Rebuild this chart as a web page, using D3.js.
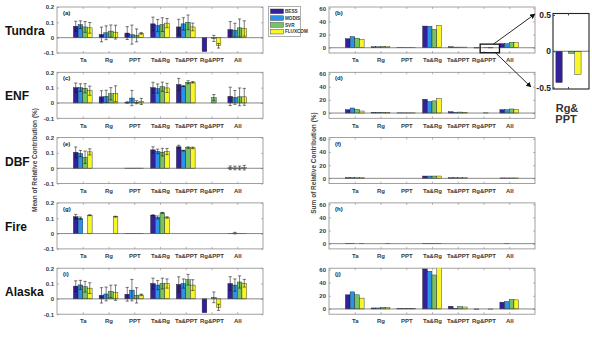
<!DOCTYPE html>
<html><head><meta charset="utf-8">
<script src="https://cdn.jsdelivr.net/npm/d3@7/dist/d3.min.js"></script>
<style>body{margin:0;background:#fff}svg{display:block}text{font-family:"Liberation Sans",Arial,sans-serif}</style>
</head><body>
<script>
// ---------- data ----------
const categories = ["Ta","Rg","PPT","Ta&Rg","Ta&PPT","Rg&PPT","All"];
const series = ["BESS","MODIS","SVR","FLUXCOM"];
const regions = ["Tundra","ENF","DBF","Fire","Alaska"];
const leftLetters = ["(a)","(c)","(e)","(g)","(i)"];
const rightLetters = ["(b)","(d)","(f)","(h)","(j)"];
const leftTicks = [-0.1, 0, 0.1, 0.2];
const rightTicks = [0, 20, 40, 60];
const insetTicks = [-0.5, 0, 0.5];
const colors = ["#33219c","#2c93e4","#74c466","#f6f62a"];

// mean of relative contribution: per category, [BESS, MODIS, SVR, FLUXCOM]
const meanTundra = [[0.074,0.085,0.070,0.064],[0.021,0.032,0.043,0.036],[0.030,0.020,0.015,0.028],[0.090,0.079,0.085,0.095],[0.070,0.090,0.100,0.070],[-0.090,null,-0.005,-0.053],[0.053,0.049,0.064,0.060]];
const errTundra  = [[0.033,0.025,0.035,0.035],[0.048,0.045,0.040,0.045],[0.042,0.062,0.042,0.005],[0.044,0.040,0.045,0.030],[0.050,0.040,0.048,0.025],[0,null,0.020,0.015],[0.052,0.045,0.058,0.050]];
const meanENF = [[0.100,0.100,0.096,0.080],[0.040,0.043,0.060,0.060],[0.003,0.032,0.005,0.010],[0.100,0.094,0.106,0.098],[0.120,0.110,0.135,0.135],[null,null,0.035,null],[0.043,0.036,0.040,0.040]];
const errENF  = [[0.030,0.025,0.030,0.030],[0.040,0.040,0.040,0.052],[0.005,0.050,0.010,0.020],[0.035,0.030,0.030,0.030],[0.040,0.003,0.010,0.005],[null,null,0.020,null],[0.060,0.045,0.058,0.055]];
const meanDBF = [[0.104,0.096,0.072,0.107],[null,null,null,null],[0.001,0.001,0.001,0.001],[0.120,0.110,0.105,0.109],[0.140,0.115,0.135,0.133],[null,null,null,null],[0.003,0.002,0.002,0.004]];
const errDBF  = [[0.035,0.020,0.040,0.020],[null,null,null,null],[0,0,0,0],[0.020,0.015,0.025,0.020],[0.010,0.003,0.005,0.005],[null,null,null,null],[0.012,0.012,0.012,0.015]];
const meanFire = [[0.110,0.100,null,0.120],[null,null,null,0.110],[0.001,0.001,0.001,0.001],[0.120,0.105,0.135,0.105],[null,null,null,null],[null,null,null,null],[0.001,0.003,0.001,0.001]];
const errFire  = [[0.015,0.008,null,0.003],[null,null,null,0.003],[0,0,0,0],[0.003,0.010,0.003,0.005],[null,null,null,null],[null,null,null,null],[0,0.005,0,0]];
const meanAlaska = [[0.083,0.091,0.079,0.070],[0.023,0.032,0.049,0.040],[0.030,0.057,0.023,0.026],[0.100,0.090,0.100,0.100],[0.094,0.100,0.125,0.090],[-0.090,null,0.010,-0.055],[0.100,0.090,0.110,0.102]];
const errAlaska  = [[0.035,0.030,0.035,0.035],[0.050,0.045,0.040,0.050],[0.045,0.070,0.050,0.005],[0.035,0.030,0.035,0.030],[0.050,0.030,0.035,0.035],[0,null,0.035,0.020],[0.045,0.040,0.040,0.025]];

// sum of relative contribution (%)
const sumTundra = [[13.7,17.0,14.6,12.7],[1.5,1.5,2.0,1.5],[0.5,0.5,0.5,0.5],[33.0,32.7,28.0,34.0],[1.5,1.0,1.0,1.0],[-0.43,0,-0.03,-0.32],[6.3,6.3,8.3,7.8]];
const sumENF = [[5.1,7.7,5.6,3.1],[1.0,1.0,1.0,1.0],[0.3,0.3,0.3,0.3],[21.0,17.4,18.5,22.0],[2.0,1.0,1.5,1.0],[0,0,0.3,0],[5.1,5.1,6.2,5.6]];
const sumDBF = [[1.2,1.2,0.9,1.2],[0,0,0,0],[0,0,0,0],[3.5,3.5,3.5,3.5],[1.0,1.0,1.0,1.0],[null,null,null,null],[0.6,0.6,0.6,0.6]];
const sumFire = [[0.5,0.5,0,0.5],[0,0,0,0.3],[0,0,0,0],[0.5,0.5,0.5,0.5],[null,null,null,null],[null,null,null,null],[0,0.1,0,0]];
const sumAlaska = [[21.5,26.0,21.5,16.5],[1.5,1.5,2.5,2.0],[0.5,0.5,0.5,0.5],[60.9,57.3,51.7,64.0],[4.0,1.0,3.6,3.0],[-0.5,0,0,-0.3],[10.3,11.3,14.4,13.8]];

const means = [meanTundra, meanENF, meanDBF, meanFire, meanAlaska];
const errs = [errTundra, errENF, errDBF, errFire, errAlaska];
const sums = [sumTundra, sumENF, sumDBF, sumFire, sumAlaska];

// ---------- layout ----------
const W = 592, H = 337;
const svg = d3.select("body").append("svg").attr("width", W).attr("height", H);
svg.append("rect").attr("width", W).attr("height", H).attr("fill", "#fff");
const defs = svg.append("defs");
defs.append("marker").attr("id","arr").attr("viewBox","0 0 10 10").attr("refX",9).attr("refY",5)
  .attr("markerWidth",6).attr("markerHeight",6).attr("orient","auto")
  .append("path").attr("d","M0,0L10,5L0,10z").attr("fill","#111");

const panelH = 46, step = 65.3, top0 = 7;
const leftX = 57, rightX = 329, panelW = 206;
const slot = 0.182;
const tickColor = "#3a3a3a";

function drawPanel(g, x0, y0, yDomain, ticks, tickFmt, data, err, letter, clipId) {
  const x = d3.scaleLinear().domain([0, 8]).range([x0, x0 + panelW]);
  const y = d3.scaleLinear().domain(yDomain).range([y0 + panelH, y0]);
  defs.append("clipPath").attr("id", clipId).append("rect")
    .attr("x", x0).attr("y", y0).attr("width", panelW).attr("height", panelH);
  g.append("rect").attr("x", x0).attr("y", y0).attr("width", panelW).attr("height", panelH)
    .attr("fill", "none").attr("stroke", "#8a8a8a").attr("stroke-width", 0.8);
  const ax = g.append("g").attr("transform", `translate(${x0},0)`)
    .call(d3.axisLeft(y).tickValues(ticks).tickFormat(tickFmt).tickSizeInner(-2).tickSizeOuter(0).tickPadding(3));
  const axr = g.append("g").attr("transform", `translate(${x0 + panelW},0)`)
    .call(d3.axisRight(y).tickValues(ticks).tickFormat("").tickSizeInner(-2).tickSizeOuter(0));
  const axb = g.append("g").attr("transform", `translate(0,${y0 + panelH})`)
    .call(d3.axisBottom(x).tickValues(d3.range(1, 8)).tickFormat(i => categories[i - 1]).tickSizeInner(-2).tickSizeOuter(0).tickPadding(5));
  const axt = g.append("g").attr("transform", `translate(0,${y0})`)
    .call(d3.axisTop(x).tickValues(d3.range(1, 8)).tickFormat("").tickSizeInner(-2).tickSizeOuter(0));
  [ax, axr, axb, axt].forEach(a => {
    a.select(".domain").remove();
    a.selectAll("line").attr("stroke", "#8a8a8a").attr("stroke-width", 0.6);
    a.selectAll("text").attr("fill", tickColor).attr("font-size", 6).attr("font-weight", "bold");
  });
  const cells = [];
  data.forEach((row, ci) => row.forEach((v, si) => { if (v !== null) cells.push({ ci, si, v, e: err ? err[ci][si] : null }); }));
  const bg = g.append("g").attr("clip-path", `url(#${clipId})`);
  bg.selectAll("rect.bar").data(cells).enter().append("rect").attr("class", "bar")
    .attr("x", d => x(d.ci + 1 + (d.si - 2) * slot))
    .attr("width", d => x(slot) - x(0))
    .attr("y", d => y(Math.max(0, d.v)))
    .attr("height", d => Math.abs(y(d.v) - y(0)))
    .attr("fill", d => colors[d.si]).attr("stroke", "#1a1a1a").attr("stroke-width", 0.4);
  g.append("line").attr("x1", x0).attr("x2", x0 + panelW).attr("y1", y(0)).attr("y2", y(0))
    .attr("stroke", "#555").attr("stroke-width", 0.7);
  if (err) {
    const eb = bg.selectAll("g.eb").data(cells.filter(d => d.e !== null && d.e > 0)).enter().append("g").attr("class", "eb")
      .attr("stroke", "#111").attr("stroke-width", 0.55);
    const cx = d => x(d.ci + 1 + (d.si - 1.5) * slot);
    eb.append("line").attr("x1", cx).attr("x2", cx).attr("y1", d => y(d.v - d.e)).attr("y2", d => y(d.v + d.e));
    eb.append("line").attr("x1", d => cx(d) - 1.6).attr("x2", d => cx(d) + 1.6).attr("y1", d => y(d.v + d.e)).attr("y2", d => y(d.v + d.e));
    eb.append("line").attr("x1", d => cx(d) - 1.6).attr("x2", d => cx(d) + 1.6).attr("y1", d => y(d.v - d.e)).attr("y2", d => y(d.v - d.e));
  }
  g.append("text").attr("x", x0 + 6).attr("y", y0 + 8).attr("font-size", 6).attr("font-weight", "bold")
    .attr("fill", "#222").text(letter);
  return { x, y };
}

const leftFmt = d => d === 0 ? "0" : String(d);
let tundraRight = null;
regions.forEach((r, i) => {
  const y0 = top0 + i * step;
  drawPanel(svg.append("g"), leftX, y0, [-0.1, 0.2], leftTicks, leftFmt, means[i], errs[i], leftLetters[i], "cl" + i);
  const rs = drawPanel(svg.append("g"), rightX, y0, [-8, 62], rightTicks, d => String(d), sums[i], null, rightLetters[i], "cr" + i);
  if (i === 0) tundraRight = rs;
  svg.append("text").attr("x", 5).attr("y", y0 + 28).attr("font-size", 12).attr("font-weight", "bold")
    .attr("fill", "#111").text(r);
});

svg.append("text").attr("transform", "translate(37,160) rotate(-90)").attr("text-anchor", "middle")
  .attr("font-size", 6.5).attr("font-weight", "bold").attr("fill", "#444").text("Mean of Relative Contribution (%)");
svg.append("text").attr("transform", "translate(316,163) rotate(-90)").attr("text-anchor", "middle")
  .attr("font-size", 6.5).attr("font-weight", "bold").attr("fill", "#444").text("Sum of Relative Contribution (%)");

// legend
const lg = svg.append("g");
lg.append("rect").attr("x", 268.5).attr("y", 6.5).attr("width", 32).attr("height", 30)
  .attr("fill", "#fff").attr("stroke", "#8a8a8a").attr("stroke-width", 0.7);
series.forEach((s, i) => {
  lg.append("rect").attr("x", 270.5).attr("y", 9 + i * 6.8).attr("width", 13).attr("height", 4.6)
    .attr("fill", colors[i]).attr("stroke", "#222").attr("stroke-width", 0.4);
  lg.append("text").attr("x", 285).attr("y", 13 + i * 6.8).attr("font-size", 4.6).attr("font-weight", "bold")
    .attr("fill", "#333").text(s);
});

// highlight rectangle on (b) around Rg&PPT
const hx = tundraRight.x, hy = tundraRight.y;
const hrx0 = hx(5.87), hrx1 = hx(6.62), hry0 = hy(5.5), hry1 = hy(-7.6);
svg.append("rect").attr("x", hrx0).attr("y", hry0).attr("width", hrx1 - hrx0)
  .attr("height", hry1 - hry0).attr("fill", "none").attr("stroke", "#111").attr("stroke-width", 1.3);

// inset
const ix0 = 553, ix1 = 589, iy0 = 13.5, iy1 = 89;
const ixs = d3.scaleLinear().domain([0.57, 1.57]).range([ix0, ix1]);
const iys = d3.scaleLinear().domain([-0.52, 0.52]).range([iy1, iy0]);
const ins = svg.append("g");
const insetVals = sumTundra[5];
ins.selectAll("rect.ib").data(insetVals.map((v, si) => ({ v, si }))).enter().append("rect").attr("class", "ib")
  .attr("x", d => ixs(1 + (d.si - 2) * 0.175)).attr("width", ixs(0.175) - ixs(0))
  .attr("y", d => iys(Math.max(0, d.v))).attr("height", d => Math.abs(iys(d.v) - iys(0)))
  .attr("fill", d => colors[d.si]).attr("stroke", "#1a1a1a").attr("stroke-width", 0.4);
ins.append("line").attr("x1", ix0).attr("x2", ix1).attr("y1", iys(0)).attr("y2", iys(0)).attr("stroke", "#444").attr("stroke-width", 0.7);
ins.append("rect").attr("x", ix0).attr("y", iy0).attr("width", ix1 - ix0).attr("height", iy1 - iy0)
  .attr("fill", "none").attr("stroke", "#222").attr("stroke-width", 1.1);
const ia = ins.append("g").attr("transform", `translate(${ix0},0)`)
  .call(d3.axisLeft(iys).tickValues(insetTicks).tickFormat(d => d === 0 ? "0" : String(d)).tickSizeInner(-2).tickSizeOuter(0).tickPadding(2));
ia.select(".domain").remove();
ia.selectAll("line").attr("stroke", "#444");
ia.selectAll("text").attr("font-size", 8.5).attr("font-weight", "bold").attr("fill", "#222");
[iy0, iy1].forEach((yy, k) => ins.append("line").attr("x1", ixs(1)).attr("x2", ixs(1))
  .attr("y1", yy).attr("y2", k === 0 ? yy + 2 : yy - 2).attr("stroke", "#444"));
ins.append("text").attr("x", 567).attr("y", 112).attr("text-anchor", "middle").attr("font-size", 11)
  .attr("font-weight", "bold").attr("fill", "#333").text("Rg&");
ins.append("text").attr("x", 566).attr("y", 123).attr("text-anchor", "middle").attr("font-size", 11)
  .attr("font-weight", "bold").attr("fill", "#333").text("PPT");

// arrows
svg.append("line").attr("x1", hrx1 - 6).attr("y1", hry0).attr("x2", 535).attr("y2", 14)
  .attr("stroke", "#111").attr("stroke-width", 0.9).attr("marker-end", "url(#arr)");
svg.append("line").attr("x1", hrx1 - 4).attr("y1", hry1).attr("x2", 531).attr("y2", 87)
  .attr("stroke", "#111").attr("stroke-width", 0.9).attr("marker-end", "url(#arr)");
</script>
</body></html>
